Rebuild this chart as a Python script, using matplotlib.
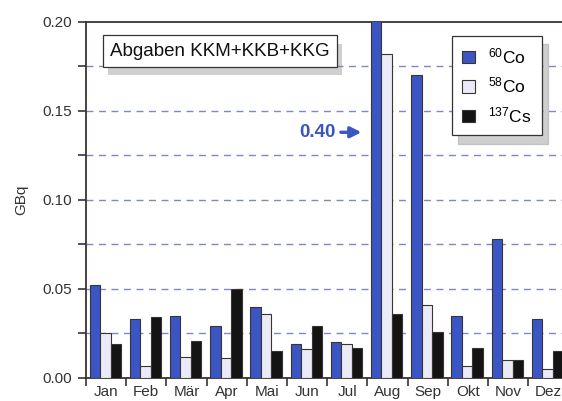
import matplotlib.pyplot as plt
import matplotlib.patheffects as pe
from matplotlib.patches import Patch
import numpy as np

plt.rcParams['font.family'] = ['Liberation Sans', 'DejaVu Sans']
plt.rcParams['mathtext.default'] = 'regular'

months = ['Jan', 'Feb', 'Mär', 'Apr', 'Mai', 'Jun', 'Jul', 'Aug', 'Sep', 'Okt', 'Nov', 'Dez']
co60 = [0.052, 0.033, 0.035, 0.029, 0.040, 0.019, 0.020, 0.40, 0.170, 0.035, 0.078, 0.033]
co58 = [0.025, 0.007, 0.012, 0.011, 0.036, 0.016, 0.019, 0.182, 0.041, 0.007, 0.010, 0.005]
cs137 = [0.019, 0.034, 0.021, 0.050, 0.015, 0.029, 0.017, 0.036, 0.026, 0.017, 0.010, 0.015]
series_labels = ['$^{60}$Co', '$^{58}$Co', '$^{137}$Cs']
yticks = [0.00, 0.05, 0.10, 0.15, 0.20]

blue = '#3a56c4'
pale = '#ebebf8'
dark = '#141414'
edge = '#3a3330'
colors = [blue, pale, dark]

fig = plt.figure(figsize=(5.62, 4.01), dpi=100)
ax = fig.add_axes([0.153, 0.0574, 0.847, 0.888])

x = np.arange(len(months))
w = 0.26
for k, vals in enumerate([co60, co58, cs137]):
    ax.bar(x + 0.09 + k * w, vals, width=w, align='edge', color=colors[k],
           edgecolor=edge, linewidth=0.8, zorder=3)

ax.set_ylim(0, 0.2)
ax.set_xlim(0, 11.84)

# ticks
ax.set_yticks(yticks)
ax.set_yticklabels([f'{v:.2f}' for v in yticks])
ax.set_yticks(np.arange(0.025, 0.2, 0.05), minor=True)
ax.set_xticks(np.arange(0, 12))
ax.set_xticklabels([])
ax.set_xticks(x + 0.5, minor=True)
ax.set_xticklabels(months, minor=True)
ax.tick_params(axis='x', which='minor', length=0, labelsize=11, pad=5, colors='#333333')
ax.tick_params(axis='x', which='major', length=6, width=1.2, color=edge)
ax.tick_params(axis='y', which='both', length=6, width=1.2, color=edge, labelsize=11,
               labelcolor='#333333', pad=4)

for y in np.arange(0.025, 0.2, 0.025):
    ax.axhline(y, color='#7f88c4', lw=1.0, ls=(0, (5, 4)), zorder=1)

for s in ['left', 'bottom', 'top']:
    ax.spines[s].set_color(edge)
    ax.spines[s].set_linewidth(1.3)
ax.spines['right'].set_visible(False)

ax.set_ylabel('GBq', fontsize=11, color='#333333', labelpad=10)

# title box
t = ax.text(0.05, 0.918, 'Abgaben KKM+KKB+KKG', transform=ax.transAxes, fontsize=13.5,
            va='center', ha='left', color='#111111',
            bbox=dict(boxstyle='square,pad=0.38', fc='white', ec='#333333', lw=0.9))
t.get_bbox_patch().set_path_effects([
    pe.SimplePatchShadow(offset=(4, -6), shadow_rgbFace='#888888', alpha=0.4), pe.Normal()])

# arrow note for the clipped Aug bar
ax.annotate('', xy=(6.92, 0.138), xytext=(6.27, 0.138),
            arrowprops=dict(arrowstyle='-|>', color=blue, lw=2.4, mutation_scale=16))
ax.text(6.2, 0.138, '0.40', color=blue, fontsize=13.5, fontweight='bold',
        ha='right', va='center')

handles = [Patch(facecolor=c, edgecolor=edge, linewidth=0.8) for c in colors]
leg = ax.legend(handles, series_labels, loc='upper left', bbox_to_anchor=(0.769, 0.961),
                borderaxespad=0, fontsize=12.5, frameon=True, fancybox=False,
                edgecolor='#333333', handlelength=0.7, handleheight=0.7, handletextpad=0.8,
                labelspacing=0.55, borderpad=0.6,
                shadow={'color': '#888888', 'alpha': 0.4, 'ox': 4, 'oy': -6})
leg.get_frame().set_linewidth(0.9)
leg.set_zorder(5)

fig.savefig('out.png', dpi=100)
